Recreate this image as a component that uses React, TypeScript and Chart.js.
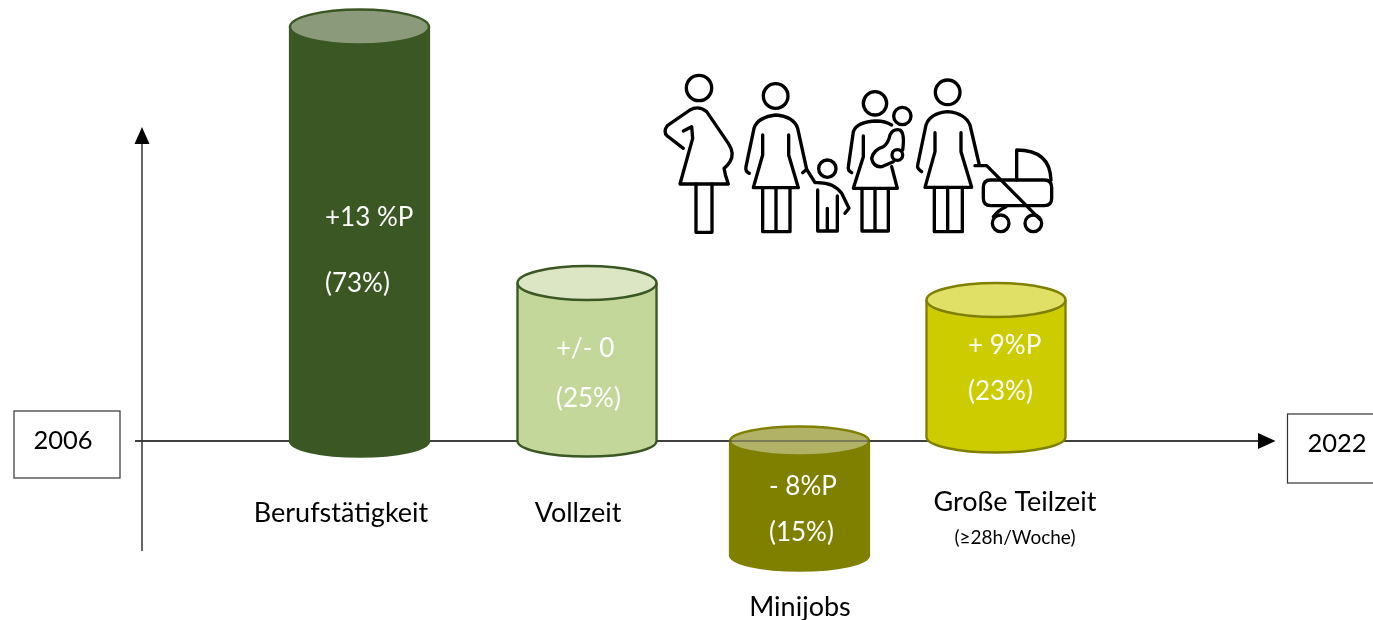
import React, { useEffect, useRef } from "react";
import { Chart, registerables } from "chart.js";

Chart.register(...registerables);

// Data
const categories = ["Berufstätigkeit", "Vollzeit", "Minijobs", "Große Teilzeit"];
const categoryNote = ["", "", "", "(≥28h/Woche)"];
const changeLabels = ["+13 %P", "+/- 0", "- 8%P", "+ 9%P"];
const shareLabels = ["(73%)", "(25%)", "(15%)", "(23%)"];
const startYears = ["2006", "2022"];
// Cylinder extents in axis units (baseline = 0)
const cylinderBase = [0, 0, -114, 4];
const cylinderTop = [414, 158, 0, 141];
const cylinderCentre = [359.5, 587, 799.5, 996];

// Styling
const bodyFill = ["#3B5723", "#C4D79B", "#808000", "#CCCC00"];
const capFill = ["#8A9A7B", "#DCE6C4", "#B2B266", "#E0E066"];
const edgeColor = ["#3B5723", "#3B5723", "#808000", "#808000"];
const FONT = "Lato, Carlito, sans-serif";
const capRadius = [17.5, 17, 14.5, 17];
const underRadius = 15.5;

// Position of labels in scale units
const changeX = [325, 556, 769, 968];
const changeY = [223, 92, -46, 95];
const shareY = [157, 42, -92, 49];
const catX = [341, 578, 800, 1015];
const catY = [-72, -72, -166, -61];

const ICON = [
  // pregnant woman
  "M100 265 L52 228 Q38 215 52 197 L120 150 Q145 135 170 155 L235 250 Q255 280 240 305 Q232 318 222 325 Q225 345 235 372 L90 372 L128 235 L125 200 L100 213",
  "M138 372 L138 517 L186 517 L186 372",
  // woman with child
  "M298 340 Q285 335 288 320 L312 205 Q322 172 377 165 Q432 170 443 205 L470 328 L458 338",
  "M338 225 L338 285 L310 383 L445 383 L416 285 L416 225",
  "M338 383 L338 515 L420 515 L420 383 M378 383 L378 515",
  "M470 328 L495 368 Q550 365 575 400 L597 445 L585 460",
  "M503 390 L503 513 L562 513 L562 408 M532 445 L532 513",
  // woman with baby
  "M605 338 Q592 330 595 320 L610 215 Q620 185 680 183 Q705 183 725 195",
  "M640 228 L640 290 L610 385 L742 385 L725 320",
  "M636 385 L636 513 L715 513 L715 385 M675 385 L675 513",
  "M700 260 Q715 250 720 225 Q730 205 750 210 Q765 220 758 270 M730 305 L695 320 Q670 322 665 295 Q670 270 700 260",
  // woman with pram
  "M815 335 Q800 325 803 315 L828 195 Q840 160 893 155 Q945 160 960 195 L988 315",
  "M855 218 L855 275 L825 382 L965 382 L933 275 L933 218",
  "M853 382 L853 515 L937 515 L937 382 M893 382 L893 515",
  "M975 317 L1010 317 L1170 478",
  "M1022 360 L1183 360 Q1205 360 1205 382 L1205 415 Q1205 437 1183 437 L1022 437 Q1000 437 1000 415 L1000 382 Q1000 360 1022 360 Z",
  "M1100 360 L1100 270 Q1200 270 1203 360",
  "M1030 470 Q1045 450 1068 440",
];
const ICON_HEADS = [
  [147, 84, 38],
  [377, 108, 37],
  [532, 326, 26],
  [675, 130, 35],
  [757, 168, 26],
  [742, 285, 16],
  [893, 97, 37],
  [1052, 490, 25],
  [1150, 490, 25],
];

function ellipse(ctx: CanvasRenderingContext2D, cx: number, cy: number, rx: number, ry: number) {
  ctx.beginPath();
  ctx.ellipse(cx, cy, rx, ry, 0, 0, Math.PI * 2);
}

function arrowHead(ctx: CanvasRenderingContext2D, pts: number[][]) {
  ctx.beginPath();
  ctx.moveTo(pts[0][0], pts[0][1]);
  ctx.lineTo(pts[1][0], pts[1][1]);
  ctx.lineTo(pts[2][0], pts[2][1]);
  ctx.closePath();
  ctx.fill();
}

const axisPlugin = {
  id: "axisLines",
  beforeDatasetsDraw(chart: any) {
    const { ctx, scales } = chart;
    const y0 = scales.y.getPixelForValue(0);
    const vx = scales.x.getPixelForValue(142);
    ctx.save();
    ctx.strokeStyle = "#000";
    ctx.fillStyle = "#000";
    ctx.lineWidth = 1.3;
    ctx.beginPath();
    ctx.moveTo(scales.x.getPixelForValue(135), y0);
    ctx.lineTo(scales.x.getPixelForValue(1260), y0);
    ctx.stroke();
    arrowHead(ctx, [
      [1275.5, y0],
      [1258, y0 - 8],
      [1258, y0 + 8],
    ]);
    ctx.strokeStyle = "#333";
    ctx.lineWidth = 1.5;
    ctx.beginPath();
    ctx.moveTo(vx, scales.y.getPixelForValue(-110));
    ctx.lineTo(vx, scales.y.getPixelForValue(300));
    ctx.stroke();
    arrowHead(ctx, [
      [vx, 127],
      [vx - 7.5, 144],
      [vx + 7.5, 144],
    ]);

    // year boxes
    ctx.strokeStyle = "#333";
    ctx.lineWidth = 1.2;
    ctx.strokeRect(14, 411, 106, 67);
    ctx.strokeRect(1287.5, 414, 100, 69);
    ctx.fillStyle = "#000";
    ctx.font = `25.5px ${FONT}`;
    ctx.textAlign = "center";
    ctx.textBaseline = "middle";
    ctx.fillText(startYears[0], 63, 441);
    ctx.fillText(startYears[1], 1337, 444);

    // family icon
    ctx.translate(650, 60);
    ctx.scale(1 / 3, 1 / 3);
    ctx.strokeStyle = "#000";
    ctx.lineWidth = 10;
    ctx.lineJoin = "round";
    ctx.lineCap = "round";
    for (const d of ICON) ctx.stroke(new Path2D(d));
    for (const [cx, cy, r] of ICON_HEADS) {
      ctx.beginPath();
      ctx.arc(cx, cy, r, 0, Math.PI * 2);
      ctx.stroke();
    }
    ctx.restore();
  },
};

const capsPlugin = {
  id: "cylinderCaps",
  afterDatasetsDraw(chart: any) {
    const { ctx, scales } = chart;
    const bars = chart.getDatasetMeta(0).data;
    ctx.save();
    bars.forEach((bar: any, i: number) => {
      const rx = bar.width / 2;
      const top = scales.y.getPixelForValue(cylinderTop[i]);
      const bottom = scales.y.getPixelForValue(cylinderBase[i]);
      // rounded underside
      ctx.beginPath();
      ctx.ellipse(bar.x, bottom, rx - 1, underRadius, 0, 0, Math.PI);
      ctx.closePath();
      ctx.fillStyle = bodyFill[i];
      ctx.fill();
      ctx.beginPath();
      ctx.ellipse(bar.x, bottom, rx - 1, underRadius, 0, 0, Math.PI);
      ctx.strokeStyle = edgeColor[i];
      ctx.lineWidth = 2.5;
      ctx.stroke();
      // lit top
      ellipse(ctx, bar.x, top, rx - 1, capRadius[i]);
      ctx.fillStyle = capFill[i];
      ctx.fill();
      ctx.stroke();
      // the time axis shows through the Minijobs cap
      if (cylinderTop[i] === 0) {
        ctx.beginPath();
        ctx.moveTo(bar.x - rx, top);
        ctx.lineTo(bar.x + rx, top);
        ctx.strokeStyle = "#444";
        ctx.lineWidth = 1.2;
        ctx.stroke();
      }
    });

    // value labels
    ctx.textBaseline = "middle";
    ctx.textAlign = "left";
    ctx.fillStyle = "#fff";
    ctx.font = `26px ${FONT}`;
    categories.forEach((_, i) => {
      const x = scales.x.getPixelForValue(changeX[i]);
      ctx.fillText(changeLabels[i], x, scales.y.getPixelForValue(changeY[i]));
      ctx.fillText(shareLabels[i], x, scales.y.getPixelForValue(shareY[i]));
    });

    // category labels
    ctx.textAlign = "center";
    ctx.fillStyle = "#000";
    categories.forEach((c, i) => {
      const x = scales.x.getPixelForValue(catX[i]);
      ctx.font = `27px ${FONT}`;
      ctx.fillText(c, x, scales.y.getPixelForValue(catY[i]));
      if (categoryNote[i]) {
        ctx.font = `19px ${FONT}`;
        ctx.fillText(categoryNote[i], x, scales.y.getPixelForValue(catY[i] - 36));
      }
    });
    ctx.restore();
  },
};

export default function App() {
  const ref = useRef<HTMLCanvasElement>(null);
  useEffect(() => {
    document.body.style.margin = "0";
    const chart = new Chart(ref.current!, {
      type: "bar",
      data: {
        labels: categories,
        datasets: [
          {
            data: categories.map((_, i) => ({
              x: cylinderCentre[i],
              y: [cylinderBase[i], cylinderTop[i]],
            })) as any,
            backgroundColor: bodyFill,
            borderColor: edgeColor,
            borderWidth: { left: 2.5, right: 2.5, top: 0, bottom: 0 },
            borderSkipped: false,
            barThickness: 141,
          },
        ],
      },
      options: {
        animation: false,
        responsive: false,
        layout: { padding: 0 },
        plugins: { legend: { display: false }, tooltip: { enabled: false } },
        scales: {
          x: { type: "linear", min: 0, max: 1373, offset: false, display: false },
          y: { type: "linear", min: -179, max: 441, display: false },
        },
      },
      plugins: [axisPlugin, capsPlugin],
    });
    return () => chart.destroy();
  }, []);
  return (
    <div style={{ width: 1373, height: 620, position: "relative", background: "#fff" }}>
      <canvas ref={ref} width={1373} height={620} style={{ display: "block" }} />
    </div>
  );
}
